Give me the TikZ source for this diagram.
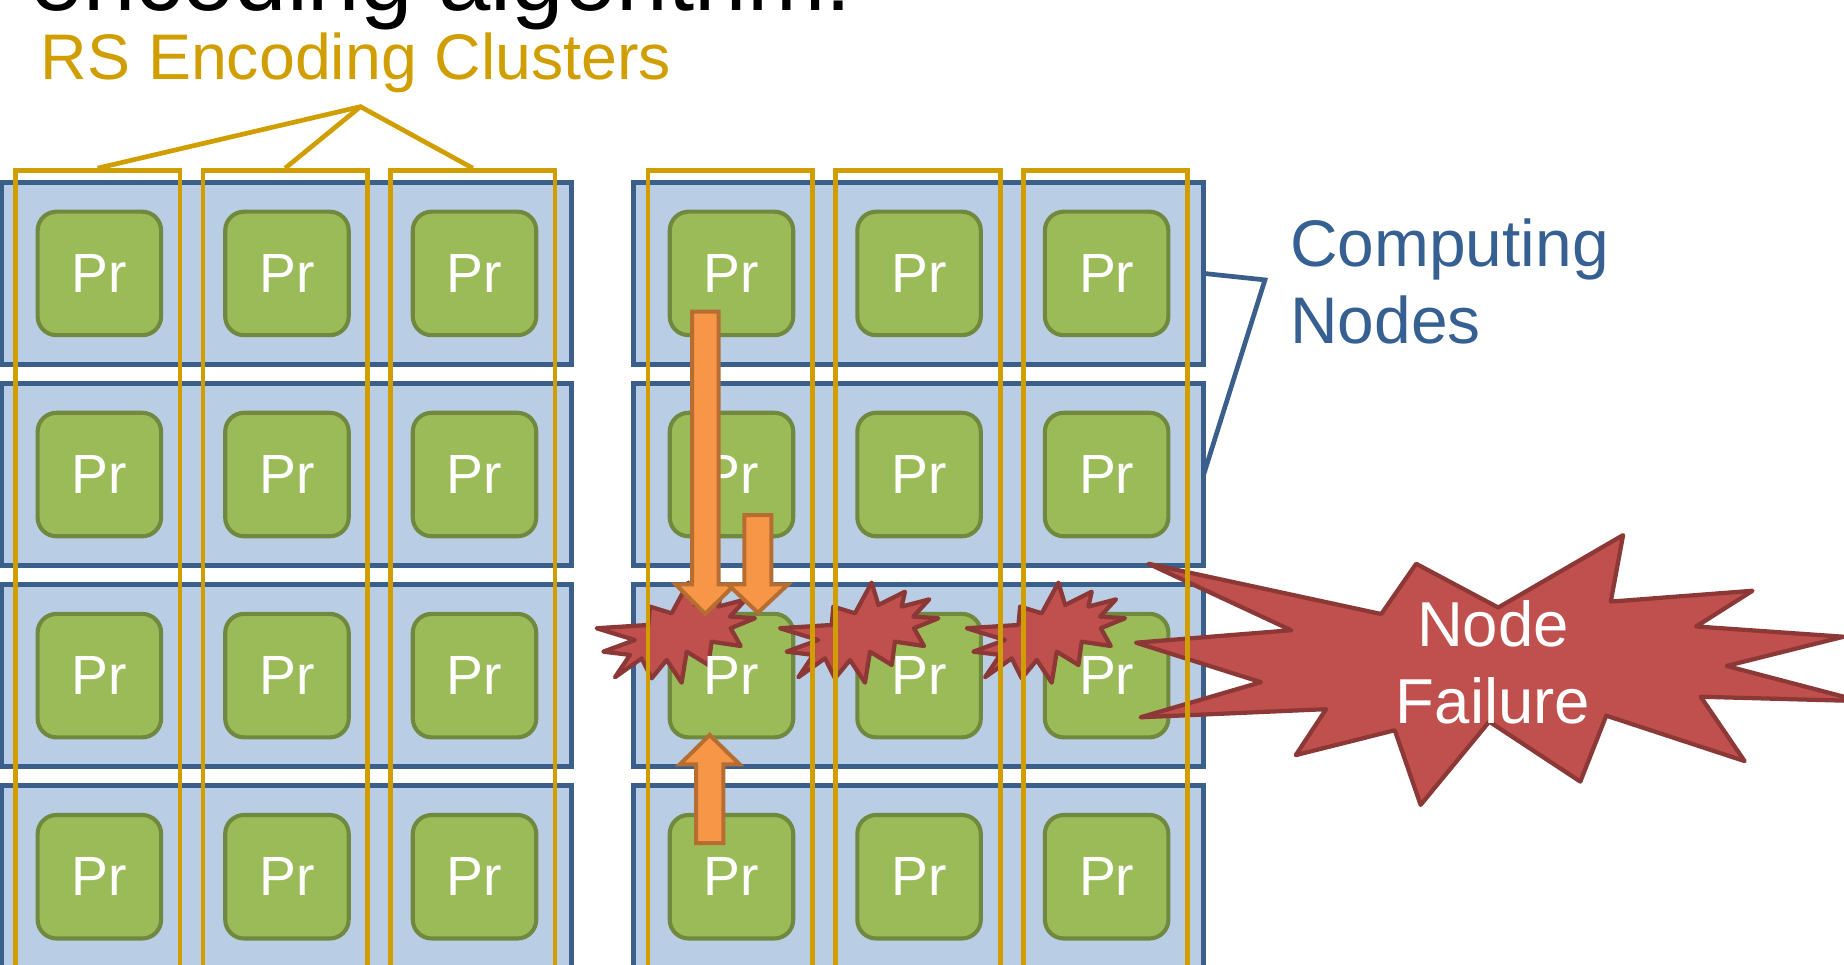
\documentclass[tikz,border=0pt]{standalone}
\usepackage{fontspec}
\setmainfont{Liberation Sans}

\definecolor{cellfill}{HTML}{B9CDE5}
\definecolor{cellline}{HTML}{3A5F8B}
\definecolor{procfill}{HTML}{9BBB59}
\definecolor{procline}{HTML}{71893F}
\definecolor{clustergold}{HTML}{D09E00}
\definecolor{labelblue}{HTML}{376092}
\definecolor{burstfill}{HTML}{C0504D}
\definecolor{burstline}{HTML}{8C3836}
\definecolor{arrowfill}{HTML}{F79646}
\definecolor{arrowline}{HTML}{B66D31}

\tikzset{
  noderow/.style={draw=cellline, fill=cellfill, line width=4pt,
    minimum width=485pt, minimum height=155pt, inner sep=0pt, outer sep=0pt},
  proc/.style={draw=procline, fill=procfill, line width=3.5pt, rounded corners=16pt,
    minimum width=105pt, minimum height=105pt, inner sep=0pt},
  proclabel/.style={text=white, font=\fontsize{47}{47}\selectfont, inner sep=0pt},
  cluster/.style={draw=clustergold, line width=4pt},
  burst/.style={draw=burstline, fill=burstfill, line width=3.6pt, line join=round},
  blockarrow/.style={draw=arrowline, fill=arrowfill, line width=3.4pt, line join=miter},
}

% outline of the small explosion marks, relative to their centre
\newcommand{\burstshape}{(10.5,-43.1) -- (16.2,-24.1) -- (38.8,-35.4) -- (36.0,-22.7)
  -- (59.5,-28.9) -- (45.9,-14.2) -- (67.2,-12.8) -- (46.5,-4.3) -- (55.0,10.8)
  -- (30.3,7.1) -- (27.5,26.9) -- (9.1,15.6) -- (4.8,42.0) -- (-7.9,22.7)
  -- (-20.7,38.3) -- (-29.2,21.3) -- (-51.9,37.4) -- (-39.1,18.4) -- (-61.8,15.6)
  -- (-34.9,5.7) -- (-67.5,-4.3) -- (-23.5,-7.1) -- (-22.1,-22.7) -- (-3.7,-17.0) -- cycle}

\begin{document}
\begin{tikzpicture}[x=1pt, y=-1pt]
\useasboundingbox (0,0) rectangle (1568,820);
\clip (0,0) rectangle (1568,820);

% slide heading (cut by the top edge)
\node[anchor=base west, inner sep=0pt, font=\fontsize{80}{80}\selectfont] (heading) at (26,9) {encoding algorithm:};

% rows of computing nodes, two blocks
\foreach \r in {0,...,3} {
  \node[noderow] (rowL\r) at (243.5, 232.5+171*\r) {};
  \node[noderow] (rowR\r) at (781, 232.5+171*\r) {};
}

% processes
\foreach \r in {0,...,3} {
  \foreach \c in {0,1,2} {
    \node[proc] (pL\r\c) at (84.5+159.5*\c, 232.5+171*\r) {};
    \node[proc] (pR\r\c) at (622+159.5*\c, 232.5+171*\r) {};
  }
}

% failed processes
\draw[burst, shift={(574.8,538.5)}] \burstshape;
\draw[burst, shift={(730.7,538.5)}] \burstshape;
\draw[burst, shift={(889.5,538.5)}] \burstshape;

% process labels
\foreach \r in {0,...,3} {
  \foreach \c in {0,1,2} {
    \node[proclabel] at (pL\r\c) {Pr};
    \node[proclabel] at (pR\r\c) {Pr};
  }
}

% large explosion
\begin{scope}[shift={(966,455)}, x=0.028519pt, y=-0.010625pt]
\draw[burst] (10800,5800) -- (14522,0) -- (14155,5325) -- (18380,4457) -- (16702,7315)
  -- (21097,8137) -- (17607,10475) -- (21600,13290) -- (16837,12942) -- (18145,18095)
  -- (14020,14457) -- (13247,19737) -- (10532,14935) -- (8485,21600) -- (7715,15627)
  -- (4762,17617) -- (5667,13937) -- (135,14587) -- (3722,11775) -- (0,8615)
  -- (4627,7617) -- (370,2295) -- (7312,6320) -- (8352,2295) -- cycle;
\end{scope}
\node[text=white, font=\fontsize{54}{65.6}\selectfont, align=center, inner sep=0pt] (failure) at (1269.5,563.5) {Node\\Failure};

% RS encoding clusters (columns)
\foreach \c in {0,1,2} {
  \node[cluster, minimum width=140pt, minimum height=700pt, anchor=north, inner sep=0pt] (kL\c) at (83+159.5*\c, 143) {};
  \node[cluster, minimum width=140pt, minimum height=700pt, anchor=north, inner sep=0pt] (kR\c) at (621+159.5*\c, 143) {};
}

% cluster label and its brace
\node[anchor=base west, inner sep=0pt, text=clustergold, font=\fontsize{54.8}{54.8}\selectfont] (clusterlabel) at (34.5,68) {RS Encoding Clusters};
\coordinate (clApex) at (306.5,90.7);
\draw[cluster, line join=miter] (kL0.north) -- (clApex) -- (kL2.north);
\draw[cluster] (clApex) -- (kL1.north);

% computing nodes label and its brace
\node[anchor=west, inner sep=0pt, align=left, text=labelblue, font=\fontsize{56}{65.7}\selectfont] (cnlabel) at (1097,239.2) {Computing\\Nodes};
\coordinate (cnKnee) at (1075.6,238);
\draw[draw=cellline, line width=4pt, line join=miter] (rowR0.east) -- (cnKnee) -- (rowR1.east);

% recovery data flows
\draw[blockarrow] (588.5,265) -- (611,265) -- (611,497) -- (625,497) -- (599.75,522) -- (574.5,497) -- (588.5,497) -- cycle;
\draw[blockarrow] (633,438) -- (656,438) -- (656,497) -- (670,497) -- (644.5,521) -- (619,497) -- (633,497) -- cycle;
\draw[blockarrow] (592,717) -- (615,717) -- (615,650) -- (629,650) -- (603.5,625) -- (578,650) -- (592,650) -- cycle;
\end{tikzpicture}
\end{document}
